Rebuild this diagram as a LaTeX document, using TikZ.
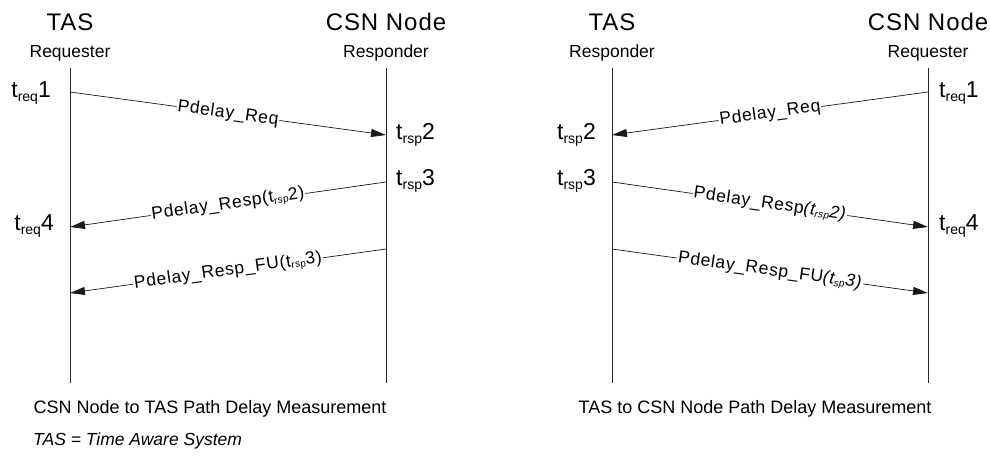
\documentclass[tikz,border=0pt]{standalone}
\usepackage{fontspec}
\setmainfont{Liberation Sans}
\usetikzlibrary{arrows.meta}
\newcommand{\tlab}[2]{t\raisebox{-3.5pt}{\fontsize{14}{14}\selectfont #1}#2}
\newcommand{\msub}[1]{\raisebox{-2pt}{\fontsize{10}{10}\selectfont #1}}
\begin{document}
\begin{tikzpicture}[x=1pt,y=-1pt,
  head/.style={inner sep=0pt,font=\fontsize{24}{26}\selectfont\addfontfeatures{LetterSpace=4}},
  role/.style={inner sep=0pt,font=\fontsize{17.5}{19}\selectfont},
  tl/.style={inner sep=0pt,font=\fontsize{23}{25}\selectfont},
  life/.style={draw=black!85,line width=0.8pt},
  msg/.style={draw=black!90,line width=0.7pt,-{Triangle[length=15pt,width=8pt]}},
  mlab/.style={sloped,fill=white,inner sep=1pt,font=\fontsize{17.5}{19}\selectfont\addfontfeatures{LetterSpace=4}},
  captxt/.style={inner sep=0pt,font=\fontsize{18}{20}\selectfont}]
\useasboundingbox (0,0) rectangle (990,462);
% ---------- left diagram ----------
\node[head] (hTASl) at (70,22) {TAS};
\node[head] (hCSNl) at (386,22) {CSN Node};
\node[role] (rReql) at (70,53) {Requester};
\node[role] (rRspl) at (386,53) {Responder};
\coordinate (Ltop) at (70,68);   \coordinate (Lbot) at (70,383);
\coordinate (Rtop) at (386,68);  \coordinate (Rbot) at (386,383);
\draw[life] (Ltop) -- (Lbot);
\draw[life] (Rtop) -- (Rbot);
\coordinate (l1) at (70,92);   \coordinate (r2) at (386,135);
\coordinate (r3) at (386,182); \coordinate (l4) at (70,227);
\coordinate (r5) at (386,249); \coordinate (l6) at (70,293);
\draw[msg] (l1) -- node[mlab] {Pdelay\_Req} (r2);
\draw[msg] (r3) -- node[mlab] {Pdelay\_Resp(t\msub{rsp}2)} (l4);
\draw[msg] (r5) -- node[mlab] {Pdelay\_Resp\_FU(t\msub{rsp}3)} (l6);
\node[tl,anchor=east] (tq1l) at (51,93) {\tlab{req}{1}};
\node[tl,anchor=west] (ts2l) at (396,135) {\tlab{rsp}{2}};
\node[tl,anchor=west] (ts3l) at (396,181) {\tlab{rsp}{3}};
\node[tl,anchor=east] (tq4l) at (54,226) {\tlab{req}{4}};
\node[captxt] (capl) at (210,409) {CSN Node to TAS Path Delay Measurement};
% ---------- right diagram ----------
\node[head] (hTASr) at (612,22) {TAS};
\node[head] (hCSNr) at (928,22) {CSN Node};
\node[role] (rRspr) at (612,53) {Responder};
\node[role] (rReqr) at (928,53) {Requester};
\coordinate (Ltop2) at (612,68);  \coordinate (Lbot2) at (612,383);
\coordinate (Rtop2) at (928,68);  \coordinate (Rbot2) at (928,383);
\draw[life] (Ltop2) -- (Lbot2);
\draw[life] (Rtop2) -- (Rbot2);
\coordinate (R1) at (928,92);   \coordinate (L2) at (612,135);
\coordinate (L3) at (612,182);  \coordinate (R4) at (928,227);
\coordinate (L5) at (612,249);  \coordinate (R6) at (928,293);
\draw[msg] (R1) -- node[mlab] {Pdelay\_Req} (L2);
\draw[msg] (L3) -- node[mlab] {Pdelay\_Resp\textit{(t\msub{rsp}2)}} (R4);
\draw[msg] (L5) -- node[mlab] {Pdelay\_Resp\_FU\textit{(t\msub{sp}3)}} (R6);
\node[tl,anchor=west] (tq1r) at (939,93) {\tlab{req}{1}};
\node[tl,anchor=east] (ts2r) at (596,135) {\tlab{rsp}{2}};
\node[tl,anchor=east] (ts3r) at (596,181) {\tlab{rsp}{3}};
\node[tl,anchor=west] (tq4r) at (939,226) {\tlab{req}{4}};
\node[captxt] (capr) at (755,409) {TAS to CSN Node Path Delay Measurement};
% ---------- note ----------
\node[captxt,anchor=west,font=\fontsize{17.5}{19}\selectfont\itshape] (note) at (33,441) {TAS = Time Aware System};
\end{tikzpicture}
\end{document}
